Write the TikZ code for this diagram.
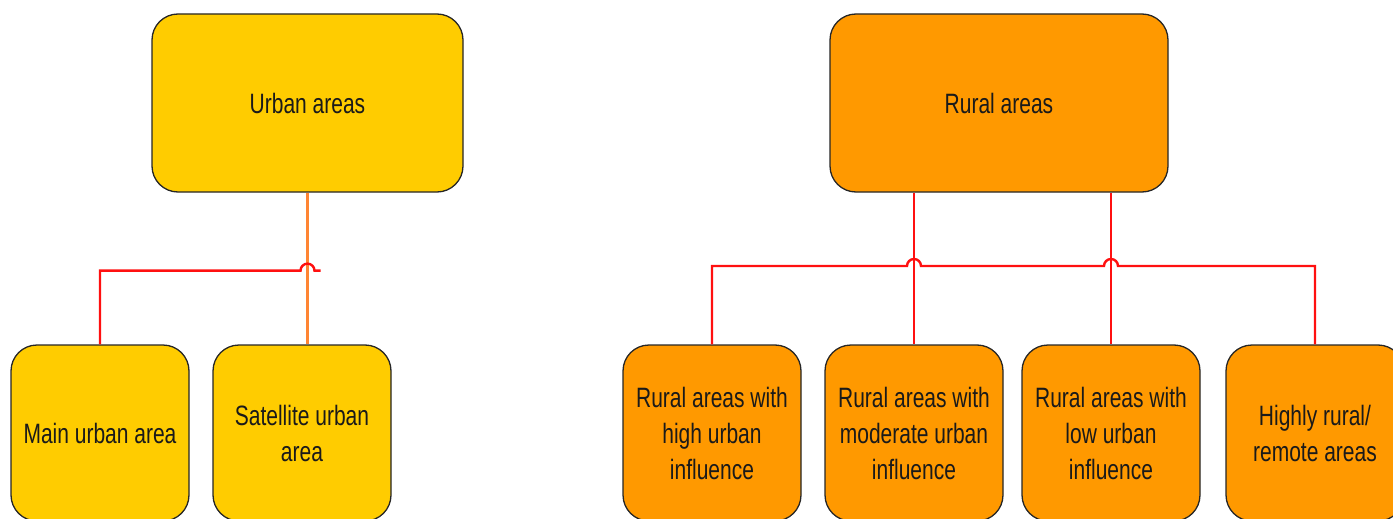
\documentclass[tikz,border=0pt]{standalone}
\usepackage{fontspec}
\setmainfont[FakeStretch=0.75]{Liberation Sans}
\usetikzlibrary{calc}
\definecolor{urbanfill}{HTML}{FFCC00}
\definecolor{ruralfill}{HTML}{FF9900}
\definecolor{linkred}{HTML}{FF1010}
\definecolor{linkorange}{HTML}{FF8533}
\definecolor{txt}{HTML}{1A1A1A}
\begin{document}
\begin{tikzpicture}[x=1pt,y=-1pt,
  box/.style={draw=black!85, line width=1.3pt, rounded corners=26pt,
    text=txt, align=center, inner sep=0pt,
    font=\fontsize{28}{36}\selectfont},
  topbox/.style={box, minimum width=311pt, minimum height=178pt},
  subbox/.style={box, minimum width=178pt, minimum height=176pt},
  redlink/.style={draw=linkred, line width=2.4pt},
  orangelink/.style={draw=linkorange, line width=2.4pt}]
\useasboundingbox (0,0) rectangle (1393,519);
\begin{scope}
\clip (0,0) rectangle (1393,519);
% top boxes
\node[topbox, fill=urbanfill] (urban) at (307.5,103) {Urban areas};
\node[topbox, fill=ruralfill, minimum width=338pt] (rural) at (999,103) {Rural areas};
% bottom boxes
\node[subbox, fill=urbanfill] (main) at (100,433) {Main urban area};
\node[subbox, fill=urbanfill] (sat) at (302,433) {Satellite urban\\area};
\node[subbox, fill=ruralfill] (high) at (712,433) {Rural areas with\\high urban\\influence};
\node[subbox, fill=ruralfill] (mod) at (914,433) {Rural areas with\\moderate urban\\influence};
\node[subbox, fill=ruralfill] (low) at (1111,433) {Rural areas with\\low urban\\influence};
\node[subbox, fill=ruralfill] (remote) at (1315,433) {Highly rural/\\remote areas};
% urban connectors
\coordinate (uj) at ($(urban.south)+(0,78)$);
\draw[orangelink] (urban.south) -- (urban.south |- sat.north);
\draw[redlink] (main.north) |- ($(uj)+(-7,0)$) arc[start angle=180, end angle=360, radius=7] -- ++(6,0);
% rural connectors
\coordinate (rj1) at (mod.north |- 0,266);
\coordinate (rj2) at (low.north |- 0,266);
\draw[redlink] (rural.south -| mod.north) -- (mod.north);
\draw[redlink] (rural.south -| low.north) -- (low.north);
\draw[redlink] (high.north) |- ($(rj1)+(-7,0)$) arc[start angle=180, end angle=360, radius=7]
  -- ($(rj2)+(-7,0)$) arc[start angle=180, end angle=360, radius=7] -| (remote.north);
\end{scope}
\end{tikzpicture}
\end{document}
